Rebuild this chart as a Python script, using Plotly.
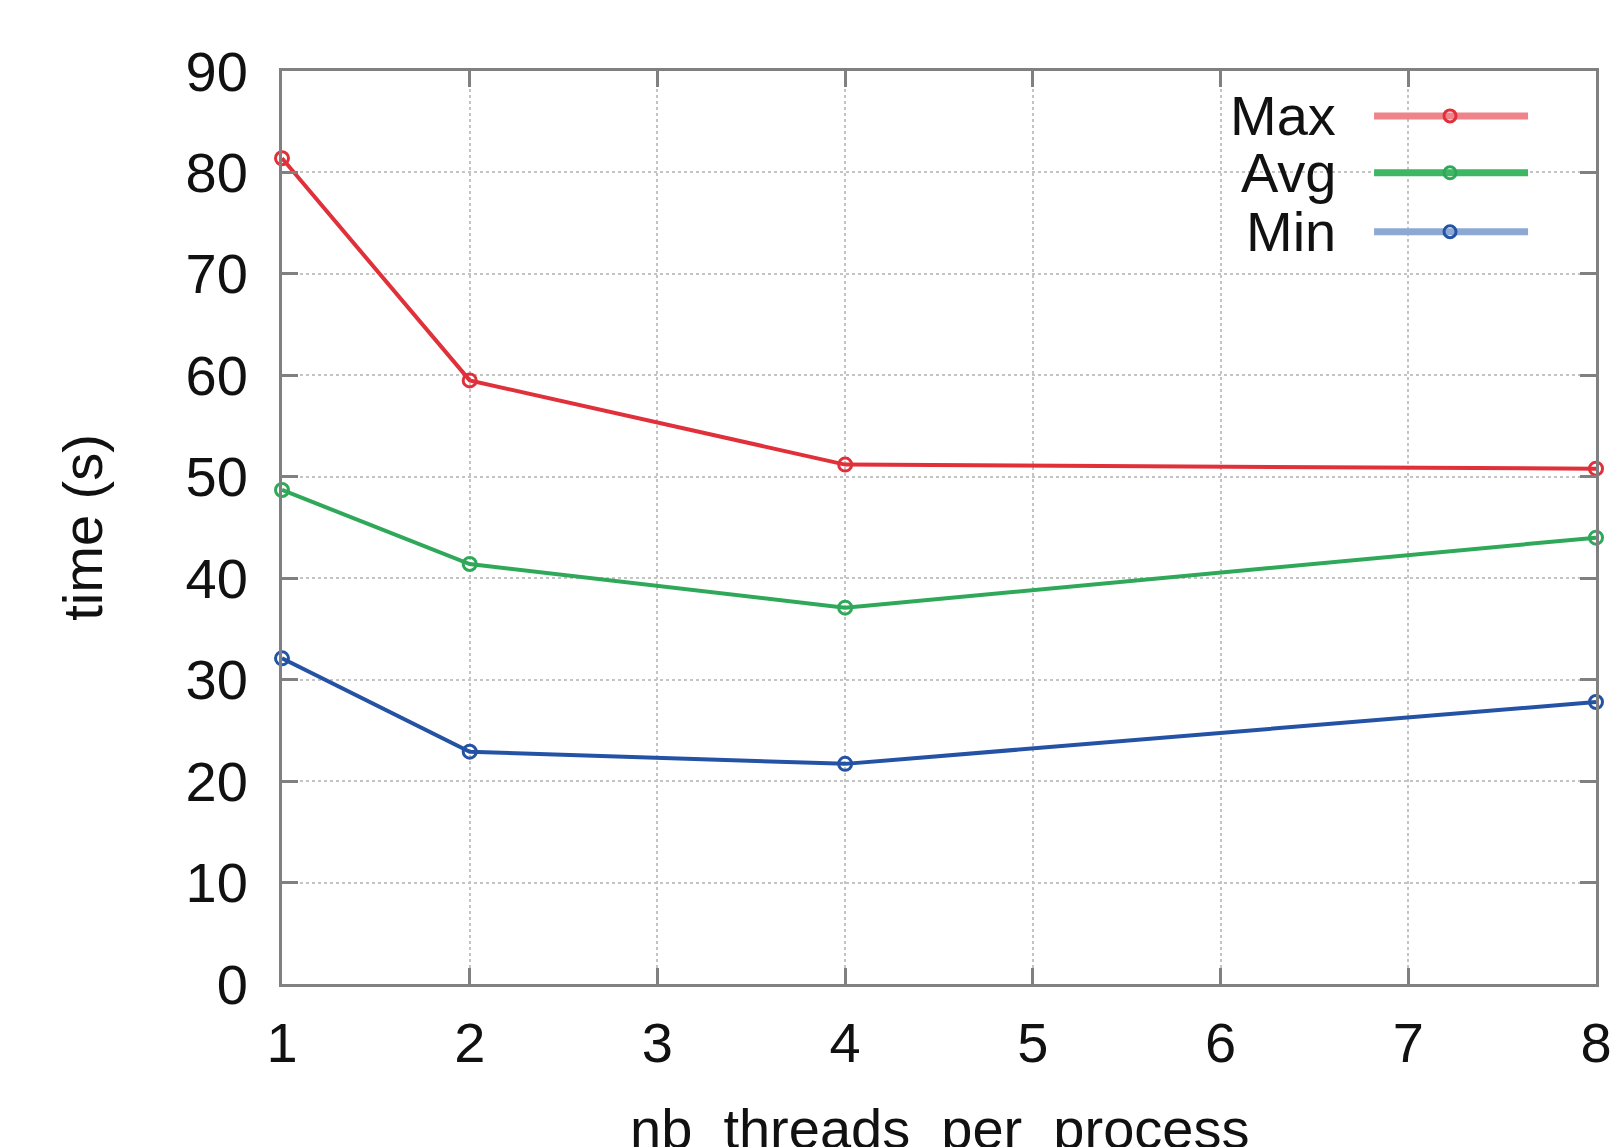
import plotly.graph_objects as go

threads = [1, 2, 4, 8]
max_time = [81.4, 59.5, 51.2, 50.8]
avg_time = [48.7, 41.4, 37.1, 44.0]
min_time = [32.1, 22.9, 21.7, 27.8]
series_names = ["Max", "Avg", "Min"]
series_colors = ["#e0303a", "#2fa85a", "#2452a4"]
legend_colors = ["#ee8489", "#3db764", "#8ea8d4"]
x_ticks = [1, 2, 3, 4, 5, 6, 7, 8]
y_ticks = [0, 10, 20, 30, 40, 50, 60, 70, 80, 90]

FONT = "Liberation Sans, Arial, sans-serif"
FS = 56
AX = "#808080"

fig = go.Figure()
for name, ys, col in zip(series_names, [max_time, avg_time, min_time], series_colors):
    fig.add_trace(go.Scatter(
        x=threads, y=ys, name=name, mode="lines+markers",
        line=dict(color=col, width=4),
        marker=dict(symbol="circle-open", size=13, color=col, line=dict(width=3, color=col)),
        cliponaxis=False, showlegend=False,
    ))

axis_common = dict(
    showline=True, linewidth=3, linecolor=AX, mirror="ticks",
    ticks="inside", ticklen=16, tickwidth=3, tickcolor=AX,
    showgrid=True, gridcolor="#c4c4c4", gridwidth=2, griddash="dot",
    zeroline=False, tickfont=dict(family=FONT, size=FS, color="#111111"),
    ticklabeloverflow="allow", automargin=False,
)

fig.update_xaxes(range=[1, 8], tickvals=x_ticks, ticklabelstandoff=8, **axis_common)
fig.update_yaxes(range=[0, 90], tickvals=y_ticks, ticklabelstandoff=20, **axis_common)

annotations = [
    dict(text="nb  threads  per  process", x=0.5, y=-0.158, xref="paper", yref="paper",
         xanchor="center", yanchor="middle", showarrow=False,
         font=dict(family=FONT, size=FS, color="#111111")),
    dict(text="time (s)", x=-0.152, y=0.5, xref="paper", yref="paper", textangle=-90,
         xanchor="center", yanchor="middle", showarrow=False,
         font=dict(family=FONT, size=FS, color="#111111")),
]
shapes = []
leg_y = [0.9508, 0.8885, 0.824]
for name, col, lcol, yy in zip(series_names, series_colors, legend_colors, leg_y):
    annotations.append(dict(text=name, x=0.8037, y=yy, xref="paper", yref="paper",
                            xanchor="right", yanchor="middle", showarrow=False,
                            font=dict(family=FONT, size=FS, color="#111111")))
    shapes.append(dict(type="line", xref="paper", yref="paper", x0=0.8311, x1=0.9483,
                       y0=yy, y1=yy, line=dict(color=lcol, width=7)))
    shapes.append(dict(type="circle", xref="paper", yref="paper", xsizemode="pixel",
                       ysizemode="pixel", xanchor=0.8889, yanchor=yy,
                       x0=-6, x1=6, y0=-6, y1=6, line=dict(color=col, width=3),
                       fillcolor="rgba(255,255,255,0)"))

fig.update_layout(
    width=1610, height=1147,
    margin=dict(l=282, r=14, t=71, b=163, autoexpand=False),
    paper_bgcolor="white", plot_bgcolor="white",
    annotations=annotations, shapes=shapes, showlegend=False,
)

fig.write_html("out.html")
